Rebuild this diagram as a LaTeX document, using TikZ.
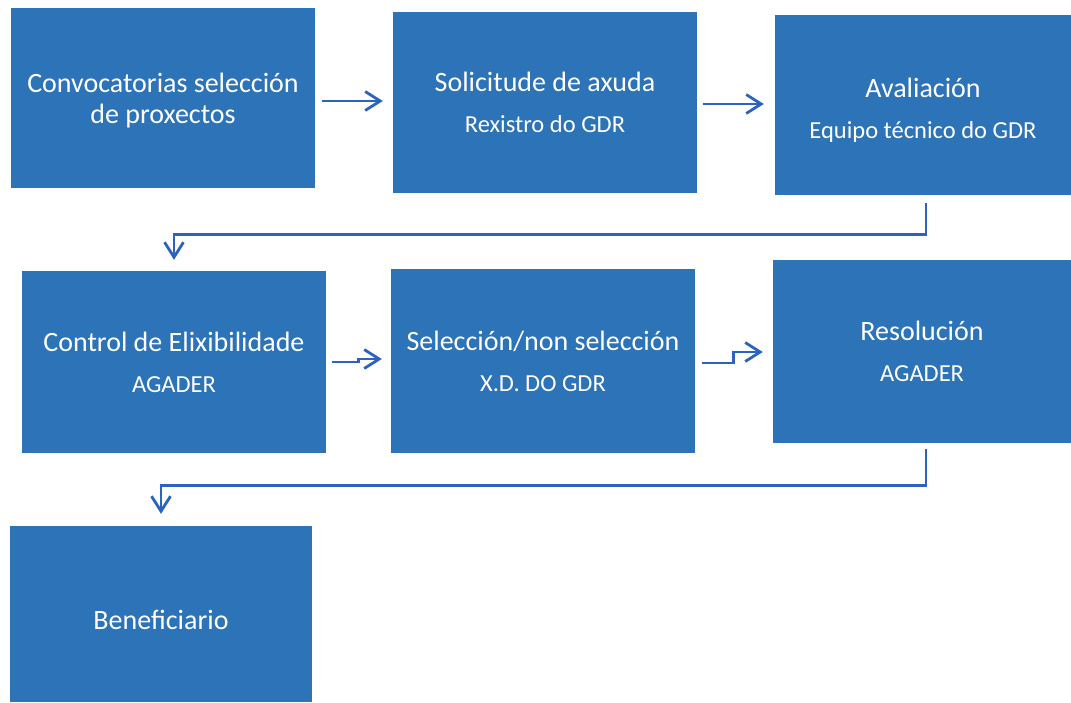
\documentclass[tikz,border=0pt]{standalone}
\usepackage{fontspec}
\setmainfont{Carlito}
\usetikzlibrary{arrows.meta}
\definecolor{boxblue}{RGB}{44,115,183}
\definecolor{arrowblue}{RGB}{42,100,190}
\newcommand{\subt}{\fontsize{24.5}{28}\selectfont}
\begin{document}
\begin{tikzpicture}[x=1pt,y=-1pt,
  flowbox/.style={fill=boxblue, draw=none, text=white, align=center, inner sep=0pt,
    font=\fontsize{28}{31}\selectfont},
  boxtext/.style={text=white, align=center, inner sep=0pt, font=\fontsize{28}{31}\selectfont},
  arr/.style={draw=arrowblue, line width=2.8pt, -{Straight Barb[length=15pt,width=19pt,line width=2.8pt]}}]
\fill[white] (0,0) rectangle (1071,702);
\useasboundingbox (0,0) rectangle (1071,702);
\node[flowbox, minimum width=304pt, minimum height=180pt] (b1) at (163,98) {};
\node[boxtext] (t1) at ([yshift=-3pt]b1.center) {Convocatorias selección\\de proxectos};
\node[flowbox, minimum width=304pt, minimum height=181pt] (b2) at (545,102.5) {Solicitude de axuda\\[10pt]{\subt Rexistro do GDR}};
\node[flowbox, minimum width=296pt, minimum height=180pt] (b3) at (923,105) {};
\node[boxtext] (t3) at ([yshift=-5pt]b3.center) {Avaliación\\[10pt]{\subt Equipo técnico do GDR}};
\node[flowbox, minimum width=304pt, minimum height=182pt] (b4) at (174,362) {Control de Elixibilidade\\[10pt]{\subt AGADER}};
\node[flowbox, minimum width=304pt, minimum height=184pt] (b5) at (543,361) {Selección/non selección\\[10pt]{\subt X.D. DO GDR}};
\node[flowbox, minimum width=298pt, minimum height=183pt] (b6) at (922,351.5) {Resolución\\[10pt]{\subt AGADER}};
\node[flowbox, minimum width=302pt, minimum height=176pt] (b7) at (161,614) {};
\node[boxtext] (t7) at ([yshift=-6pt]b7.center) {Beneficiario};
% row 1 arrows
\draw[arr] ([xshift=7pt,yshift=-3pt]b1.east) -- ([xshift=-10pt,yshift=-3pt]b1.east -| b2.west);
\draw[arr] ([xshift=6pt,yshift=-1.5pt]b2.east) -- ([xshift=-11pt,yshift=-1.5pt]b2.east -| b3.west);
% row 2 arrows
\draw[arr] ([xshift=6pt]b4.east) -- ++(26,0) -- ++(0,-3) -- ([xshift=-9pt,yshift=3pt]b4.east -| b5.west);
\draw[arr] ([xshift=7pt,yshift=-2pt]b5.east) -- ++(31,0) -- ++(0,-11) -- ([xshift=-10pt,yshift=-0.5pt]b6.west);
% connectors between rows
\draw[arr] ([xshift=3pt,yshift=-8pt]b3.south) -- ++(0,31) -| ([yshift=11pt]b4.north);
\draw[arr] ([xshift=4pt,yshift=-6pt]b6.south) -- ++(0,36) -| ([yshift=12pt]b7.north);
\end{tikzpicture}
\end{document}
